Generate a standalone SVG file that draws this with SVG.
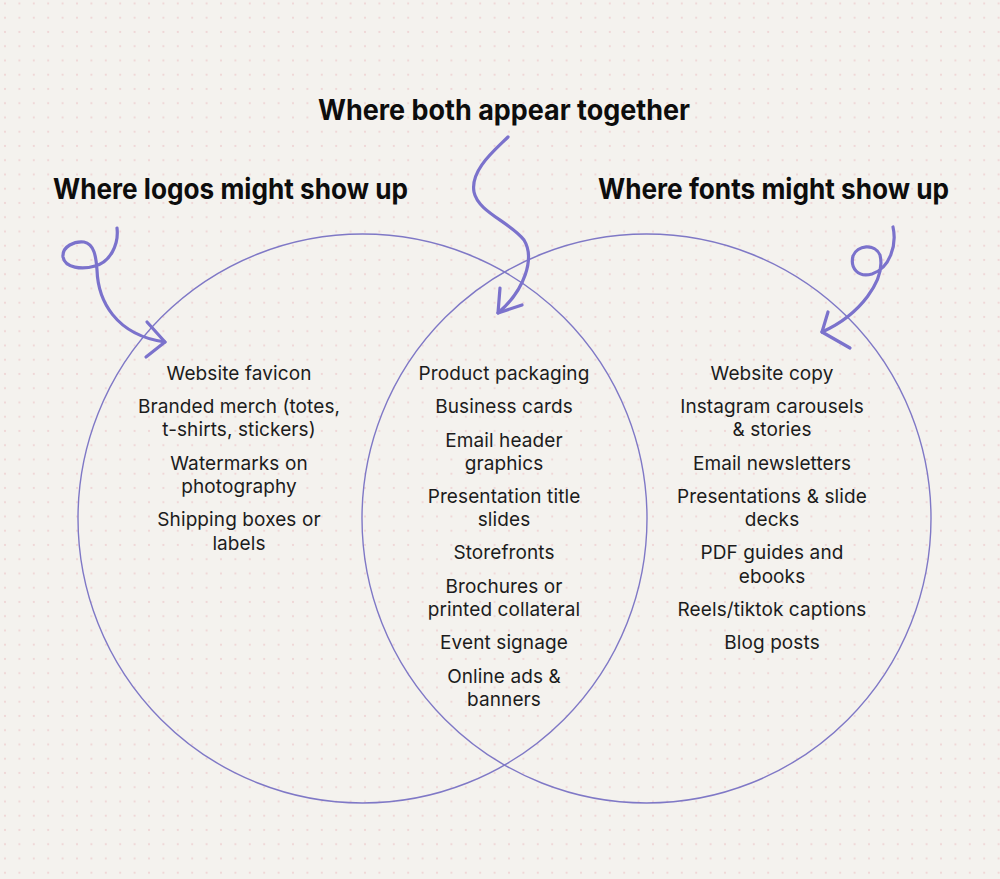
<svg xmlns="http://www.w3.org/2000/svg" width="1000" height="879" viewBox="0 0 1000 879">
<defs>
<pattern id="dots" x="5" y="3.5" width="14.4" height="14.25" patternUnits="userSpaceOnUse">
<circle cx="0" cy="0" r="1.1" fill="#efd6d6"/>
<circle cx="14.4" cy="0" r="1.1" fill="#efd6d6"/>
<circle cx="0" cy="14.25" r="1.1" fill="#efd6d6"/>
<circle cx="14.4" cy="14.25" r="1.1" fill="#efd6d6"/>
</pattern>
<style>
.title{font-family:Inter,"Liberation Sans",sans-serif;font-weight:700;font-size:28px;fill:#0d0d0d;text-anchor:middle}
.item{font-family:Inter,"Liberation Sans",sans-serif;font-weight:400;font-size:19px;letter-spacing:0.1px;fill:#1c1c1c;text-anchor:middle}
.circle{fill:none;stroke:#7f78c6;stroke-width:1.4}
.arrow{fill:none;stroke:#7b72cc;stroke-width:3.2;stroke-linecap:round;stroke-linejoin:round}
</style>
</defs>
<rect width="1000" height="879" fill="#f4f2ee"/>
<rect width="1000" height="879" fill="url(#dots)"/>

<g id="circle-logos"><circle class="circle" cx="362.5" cy="518.5" r="284.5"/></g>
<g id="circle-fonts"><circle class="circle" cx="646.5" cy="518.5" r="284.5"/></g>

<g id="title-both"><text class="title" x="504" y="120" textLength="372" lengthAdjust="spacingAndGlyphs">Where both appear together</text></g>
<g id="title-logos"><text class="title" x="230.5" y="199" textLength="355" lengthAdjust="spacingAndGlyphs">Where logos might show up</text></g>
<g id="title-fonts"><text class="title" x="773.5" y="199" textLength="351" lengthAdjust="spacingAndGlyphs">Where fonts might show up</text></g>

<g id="connectors">
<path class="arrow" d="M117,228 C119,245 110,262 95,266 C82,270 65,268 63,257 C62,246 75,241 84,242 C94,244 96,256 97,270 C98,300 115,335 165,342"/>
<path class="arrow" d="M147,322 L165,342 L146,357"/>
<path class="arrow" d="M508,137 C495,150 470,170 474,192 C478,212 510,222 524,240 C535,258 525,290 498,313"/>
<path class="arrow" d="M500,288 L498,313 L522,305"/>
<path class="arrow" d="M893,227 C897,245 890,268 872,274 C858,278 850,268 853,256 C857,245 875,243 880,255 C886,280 860,315 822,332"/>
<path class="arrow" d="M828,312 L822,332 L850,348"/>
</g>

<g id="list-logos">
<text class="item" x="239" y="380">Website favicon</text>
<text class="item" x="239" y="413">Branded merch (totes,</text>
<text class="item" x="239" y="436">t-shirts, stickers)</text>
<text class="item" x="239" y="470">Watermarks on</text>
<text class="item" x="239" y="493">photography</text>
<text class="item" x="239" y="526">Shipping boxes or</text>
<text class="item" x="239" y="550">labels</text>
</g>

<g id="list-both">
<text class="item" x="504" y="380">Product packaging</text>
<text class="item" x="504" y="413">Business cards</text>
<text class="item" x="504" y="447">Email header</text>
<text class="item" x="504" y="470">graphics</text>
<text class="item" x="504" y="503">Presentation title</text>
<text class="item" x="504" y="526">slides</text>
<text class="item" x="504" y="559">Storefronts</text>
<text class="item" x="504" y="593">Brochures or</text>
<text class="item" x="504" y="616">printed collateral</text>
<text class="item" x="504" y="649">Event signage</text>
<text class="item" x="504" y="683">Online ads &amp;</text>
<text class="item" x="504" y="706">banners</text>
</g>

<g id="list-fonts">
<text class="item" x="772" y="380">Website copy</text>
<text class="item" x="772" y="413">Instagram carousels</text>
<text class="item" x="772" y="436">&amp; stories</text>
<text class="item" x="772" y="470">Email newsletters</text>
<text class="item" x="772" y="503">Presentations &amp; slide</text>
<text class="item" x="772" y="526">decks</text>
<text class="item" x="772" y="559">PDF guides and</text>
<text class="item" x="772" y="583">ebooks</text>
<text class="item" x="772" y="616">Reels/tiktok captions</text>
<text class="item" x="772" y="649">Blog posts</text>
</g>
</svg>
